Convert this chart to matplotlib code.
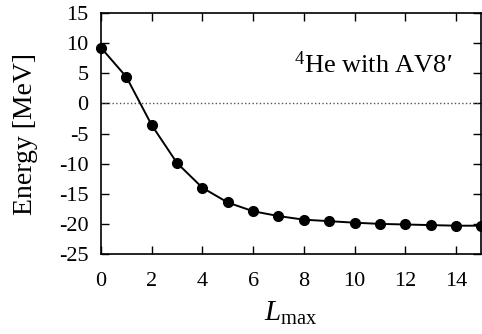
import numpy as np
import matplotlib
matplotlib.use("Agg")
import matplotlib.pyplot as plt

# data
lmax = [0, 1, 2, 3, 4, 5, 6, 7, 8, 9, 10, 11, 12, 13, 14, 15]
energy = [9.25, 4.4, -3.6, -9.9, -14.0, -16.45, -17.9, -18.7, -19.3,
          -19.55, -19.8, -20.0, -20.1, -20.2, -20.3, -20.3]

xticks = [0, 2, 4, 6, 8, 10, 12, 14]
yticks = [15, 10, 5, 0, -5, -10, -15, -20, -25]

plt.rcParams['font.family'] = ['Liberation Serif', 'DejaVu Serif']
plt.rcParams['mathtext.fontset'] = 'custom'
plt.rcParams['mathtext.rm'] = 'Liberation Serif'
plt.rcParams['mathtext.it'] = 'Liberation Serif:italic'

fig = plt.figure(figsize=(4.82, 3.34), dpi=100)
ax = fig.add_axes([0.2095, 0.2395, 0.789, 0.7215])

ax.axhline(0, color='#555555', ls=':', lw=1.0)
ax.plot(lmax, energy, color='black', lw=1.4, marker='o', ms=7,
        clip_on=False, zorder=3)

ax.set_xlim(0, 15)
ax.set_ylim(-25, 15)
ax.set_xticks(xticks)
ax.set_yticks(yticks)
ax.set_yticklabels([str(v) for v in yticks])
ax.tick_params(direction='in', length=6, width=1, top=True, right=True,
               labelsize=16)
ax.tick_params(axis='x', pad=13)
ax.tick_params(axis='y', pad=9)
for s in ax.spines.values():
    s.set_linewidth(1.2)

ax.set_xlabel(r'$L_{\mathrm{max}}$', fontsize=21, labelpad=6)
ax.set_ylabel('Energy [MeV]', fontsize=20, labelpad=15)
ax.text(0.924, 0.75, r'$^{4}$He with AV8$\prime$', transform=ax.transAxes,
        ha='right', va='baseline', fontsize=19)

fig.savefig('out.png', dpi=100)
